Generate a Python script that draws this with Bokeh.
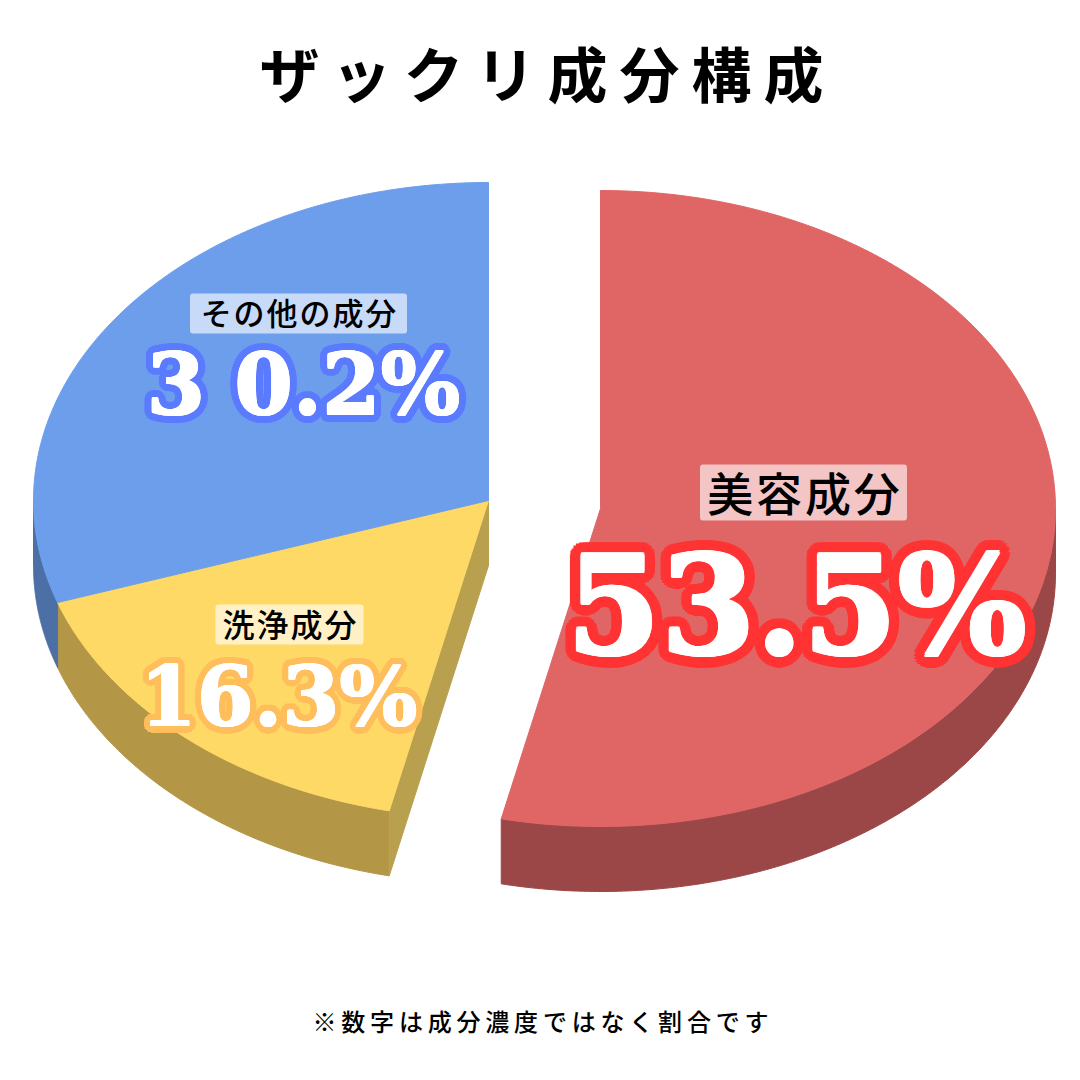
import numpy as np
from bokeh.core.properties import value
from bokeh.embed import file_html
from bokeh.models import Range1d
from bokeh.plotting import figure
from bokeh.resources import INLINE

# ---------- data ----------
categories = ["美容成分", "洗浄成分", "その他の成分"]
shares = [53.5, 16.3, 30.2]
share_labels = ["53.5%", "16.3%", "3 0.2%"]
title_text = "ザックリ成分構成"
note_text = "※数字は成分濃度ではなく割合です"

# ---------- layout and style ----------
RX, RY, DEPTH = 455, 318, 65
CENTERS = [(600, 508), (488, 500), (488, 500)]
TOP = ["#E06666", "#FFD966", "#6D9EEB"]
SIDE = ["#9C4747", "#B39747", "#4C6FA5"]
WALL = "#B8A04E"
OUTLINE = ["#FF3333", "#FFBE5C", "#5B7BFF"]
OUT_R = [12, 7, 8]
FACE_R = [1.6, 0.8, 0.8]
PCT_POS = [(796, 605, 136), (278, 696, 82), (303, 384, 84)]
LAB_POS = [(803, 492, 46, 207, 56), (289, 624, 32, 148, 40), (298, 313, 31, 217, 40)]
SERIF = "DejaVu Serif"
CJK = "Noto Sans CJK JP"
CJK_MED = "Noto Sans CJK JP Medium"
THIN = "\u2009"
HAIR = "\u200a"


def spaced(s, sp=THIN):
    return sp.join(s)


p = figure(width=1064, height=1064, output_backend="svg", toolbar_location=None,
           x_range=Range1d(0, 1064), y_range=Range1d(1064, 0),
           x_axis_type=None, y_axis_type=None, min_border=0)
p.grid.visible = False
p.outline_line_color = None
p.background_fill_color = "white"
p.border_fill_color = "white"


def pt(center, th, dz=0):
    return center[0] + RX * np.sin(th), center[1] - RY * np.cos(th) + dz


# angles clockwise from twelve o'clock, taken from the shares
edges = np.radians(np.concatenate([[0], np.cumsum(shares)]) * 3.6)
LOW_A, LOW_B = np.pi / 2, 3 * np.pi / 2

# outer sides, visible on the lower half only
for c, a, b, col in zip(CENTERS, edges[:-1], edges[1:], SIDE):
    a2, b2 = max(a, LOW_A), min(b, LOW_B)
    if b2 <= a2:
        continue
    th = np.linspace(a2, b2, 160)
    x1, y1 = pt(c, th)
    x2, y2 = pt(c, th[::-1], DEPTH)
    p.patch(np.r_[x1, x2], np.r_[y1, y2], fill_color=col, line_color=col, line_width=1)

# cut wall of the yellow slice, along its first edge
c, a = CENTERS[1], edges[1]
ex, ey = pt(c, a)
p.patch([c[0], c[0], ex, ex], [c[1], c[1] + DEPTH, ey + DEPTH, ey],
        fill_color=WALL, line_color=WALL, line_width=1)

# top faces
for c, a, b, col in zip(CENTERS, edges[:-1], edges[1:], TOP):
    th = np.linspace(a, b, 240)
    x, y = pt(c, th)
    p.patch(np.r_[c[0], x], np.r_[c[1], y], fill_color=col, line_color=col, line_width=1)

# labels
for cat, (x, y, fs, w, h) in zip(categories, LAB_POS):
    p.quad(left=[x - w / 2], right=[x + w / 2], top=[y - h / 2], bottom=[y + h / 2],
           fill_color="white", fill_alpha=0.62, line_color=None, border_radius=3)
    p.text([x], [y - 2], text=[spaced(cat, HAIR)], text_font=value(CJK_MED),
           text_font_style="normal", text_font_size=f"{fs}px", text_color="black",
           text_align="center", text_baseline="middle")


def ring(lab, x, y, fs, col, r, n):
    for ang in np.linspace(0, 2 * np.pi, n, endpoint=False):
        p.text([x], [y], text=[lab], x_offset=r * np.cos(ang), y_offset=r * np.sin(ang),
               text_font=value(SERIF), text_font_style="bold", text_font_size=f"{fs}px",
               text_color=col, text_align="center", text_baseline="middle")


# percentages: outline ring of copies, then the thickened white face
for lab, (x, y, fs), col, r, fr in zip(share_labels, PCT_POS, OUTLINE, OUT_R, FACE_R):
    ring(lab, x, y, fs, col, r, 24)
    ring(lab, x, y, fs, "white", fr, 8)
    p.text([x], [y], text=[lab], text_font=value(SERIF), text_font_style="bold",
           text_font_size=f"{fs}px", text_color="white", text_align="center",
           text_baseline="middle")

p.text([541], [71], text=[spaced(title_text)], text_font=value(CJK), text_font_style="bold",
       text_font_size="60px", text_color="black", text_align="center", text_baseline="middle")
p.text([540], [1020], text=[spaced(note_text)], text_font=value(CJK_MED), text_font_style="normal",
       text_font_size="24px", text_color="black", text_align="center", text_baseline="middle")

open("out.html", "w").write(file_html(p, INLINE))
